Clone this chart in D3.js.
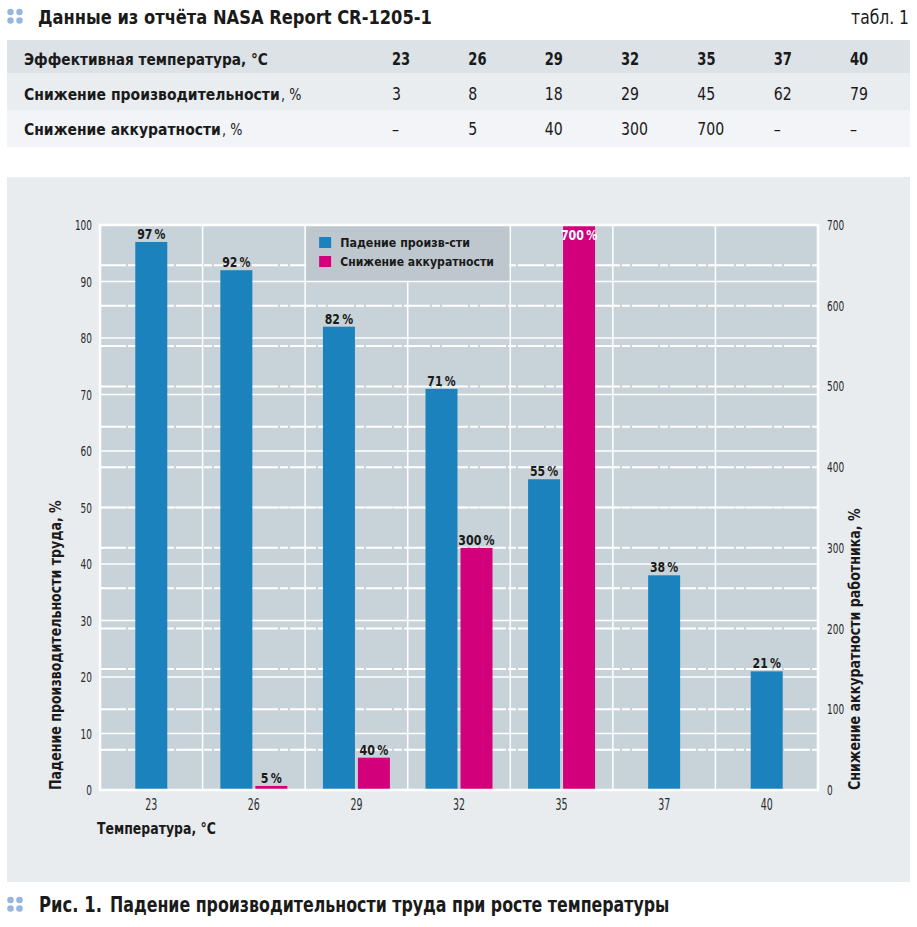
<!DOCTYPE html>
<html><head><meta charset="utf-8">
<script src="https://cdn.jsdelivr.net/npm/d3@7"></script>
<style>
html,body{margin:0;padding:0;background:#fff;}
svg{display:block;}
text{font-family:"DejaVu Sans","Liberation Sans",sans-serif;fill:#1a1a1a;}
.b{font-weight:bold;}
</style></head>
<body>
<svg id="c" width="917" height="927"></svg>
<script>
// ---- data ----
const tableTitle = "Данные из отчёта NASA Report CR-1205-1";
const tableTag = "табл. 1";
const temps = [23, 26, 29, 32, 35, 37, 40];
const tableProdDecline = [3, 8, 18, 29, 45, 62, 79];
const tableAccDecline = [null, 5, 40, 300, 700, null, null];
const rowLabels = [["Эффективная температура, °С", ""], ["Снижение производительности", ", %"], ["Снижение аккуратности", ", %"]];
const productivity = [97, 92, 82, 71, 55, 38, 21];
const accuracy = [null, 5, 40, 300, 700, null, null];
const seriesNames = ["Падение произв-сти", "Снижение аккуратности"];
const leftTicks = [0, 10, 20, 30, 40, 50, 60, 70, 80, 90, 100];
const rightTicks = [0, 100, 200, 300, 400, 500, 600, 700];
const rightGrid = [50, 100, 150, 200, 250, 300, 350, 400, 450, 500, 550, 600, 650];
const leftTitle = "Падение производительности труда, %";
const rightTitle = "Снижение аккуратности работника, %";
const xTitle = "Температура, °С";
const caption = ["Рис. 1.", "Падение производительности труда при росте температуры"];

const blue = "#1b82be", pink = "#d3007b";
const svg = d3.select("#c");

// condensed look via horizontal scaling (no condensed font installed)
// w: target width (number) or null; k: factor used when w is null; rot: rotation
function squeeze(sel, w, k, rot) {
  sel.each(function () {
    const s = d3.select(this);
    const x0 = +s.attr("x") || 0, y0 = +s.attr("y") || 0;
    const l = this.getComputedTextLength();
    const f = w != null ? w / l : k;
    s.attr("x", 0).attr("y", 0)
     .attr("transform", `translate(${x0},${y0})` + (rot ? ` rotate(${rot})` : "") + ` scale(${f},1)`);
  });
  return sel;
}

function dots(cx, cy, dx, dy, r) {
  [[0,0],[1,0],[0,1],[1,1]].forEach(([i,j]) =>
    svg.append("circle").attr("cx", cx + i*dx).attr("cy", cy + j*dy).attr("r", r).attr("fill", "#95b6e0"));
}

// ---- header ----
dots(10.5, 12, 9, 8.5, 3.2);
squeeze(svg.append("text").attr("class","b").attr("x",38).attr("y",24).attr("font-size",20).text(tableTitle), 394);
squeeze(svg.append("text").attr("x",909).attr("y",24).attr("text-anchor","end").attr("font-size",20).text(tableTag), 58);

// ---- table ----
const rowY = [40, 73, 110, 147];
const rowBase = [65, 100, 135];
const rowFill = ["#dce2e6", "#e9edf0", "#f2f4f7"];
const rowLabelW = [244, 256, 197];
const colX = d3.scalePoint().domain(temps).range([392, 850]);
rowLabels.forEach((lab, i) => {
  svg.append("rect").attr("x",7).attr("y",rowY[i]).attr("width",903).attr("height",rowY[i+1]-rowY[i]).attr("fill",rowFill[i]);
  squeeze(svg.append("text").attr("class","b").attr("x",24).attr("y",rowBase[i]).attr("font-size",16).text(lab[0]), rowLabelW[i]);
  if (lab[1]) squeeze(svg.append("text").attr("x",25 + rowLabelW[i]).attr("y",rowBase[i]).attr("font-size",16).text(lab[1]), null, 0.8);
});
const rows = [temps, tableProdDecline, tableAccDecline];
rows.forEach((vals, i) => {
  squeeze(svg.selectAll(null).data(vals).enter().append("text")
    .attr("x", (d, k) => colX(temps[k]))
    .attr("y", rowBase[i])
    .attr("font-size", 17)
    .attr("font-weight", i === 0 ? "bold" : "normal")
    .text(d => d === null ? "–" : d), null, i === 0 ? 0.77 : 0.83);
});

// ---- chart panel ----
svg.append("rect").attr("x",7).attr("y",177).attr("width",903).attr("height",705).attr("fill","#e8ecef");

const L = 100, R = 818, T = 225, B = 790;
const x = d3.scaleBand().domain(temps).range([L, R]).padding(0);
const yL = d3.scaleLinear().domain([0, 100]).range([B, T]);
const yR = d3.scaleLinear().domain([0, 700]).range([B, T]);
const bw = 32, gap = 3;

svg.append("rect").attr("x",L).attr("y",T).attr("width",R-L).attr("height",B-T).attr("fill","#c8d3d9");

// grid: right-axis lines (broken)
svg.append("g").selectAll("line").data(rightGrid).enter().append("line")
  .attr("x1",L).attr("x2",R).attr("y1",d=>yR(d)).attr("y2",d=>yR(d))
  .attr("stroke","#fff").attr("stroke-width",2).attr("stroke-dasharray","26 2 8 2");
// grid: left-axis lines
svg.append("g").selectAll("line").data(leftTicks.slice(1,-1)).enter().append("line")
  .attr("x1",L).attr("x2",R).attr("y1",d=>yL(d)).attr("y2",d=>yL(d))
  .attr("stroke","#fff").attr("stroke-width",1.5);
// vertical category boundaries
svg.append("g").selectAll("line").data(temps.slice(1)).enter().append("line")
  .attr("x1",d=>x(d)).attr("x2",d=>x(d)).attr("y1",T).attr("y2",B)
  .attr("stroke","#fff").attr("stroke-width",1.5);

// legend box
const lgX0 = x(temps[2]), lgX1 = x(temps[4]);
svg.append("rect").attr("x",lgX0+1).attr("y",T).attr("width",lgX1-lgX0-2).attr("height",yL(90)-T-1).attr("fill","#bec7ce");
const legW = [130, 154];
[blue, pink].forEach((c, i) => {
  svg.append("rect").attr("x",lgX0+14).attr("y",237+i*19).attr("width",12).attr("height",11).attr("fill",c);
  squeeze(svg.append("text").attr("class","b").attr("x",lgX0+35).attr("y",247+i*19).attr("font-size",13).text(seriesNames[i]), legW[i]);
});

// bars
const cx = d => x(d) + x.bandwidth()/2;
const blueX = (d,i) => accuracy[i] === null ? cx(d) - bw/2 : cx(d) - gap/2 - bw;
svg.append("g").selectAll("rect").data(temps).enter().append("rect")
  .attr("x",(d,i)=>blueX(d,i)).attr("y",(d,i)=>yL(productivity[i]))
  .attr("width",bw).attr("height",(d,i)=>B-yL(productivity[i])).attr("fill",blue);
const accData = temps.map((t,i)=>({t, v: accuracy[i]})).filter(d=>d.v!==null);
svg.append("g").selectAll("rect").data(accData).enter().append("rect")
  .attr("x",d=>cx(d.t)+gap/2).attr("y",d=>yR(d.v))
  .attr("width",bw).attr("height",d=>B-yR(d.v)).attr("fill",pink);

// value labels
squeeze(svg.append("g").selectAll("text").data(temps).enter().append("text")
  .attr("class","b").attr("font-size",14).attr("text-anchor","middle")
  .attr("x",(d,i)=>blueX(d,i)+bw/2).attr("y",(d,i)=>yL(productivity[i])-3)
  .text((d,i)=>productivity[i] + "\u2009%"), null, 0.78);
squeeze(svg.append("g").selectAll("text").data(accData).enter().append("text")
  .attr("class","b").attr("font-size",14).attr("text-anchor","middle")
  .attr("x",d=>cx(d.t)+gap/2+bw/2)
  .attr("y",d=> yR(d.v) - T < 20 ? yR(d.v)+15 : yR(d.v)-3)
  .style("fill",d=> yR(d.v) - T < 20 ? "#fff" : "#1a1a1a")
  .text(d=>d.v + "\u2009%"), null, 0.79);

// frame
svg.append("rect").attr("x",L).attr("y",T).attr("width",R-L).attr("height",B-T)
  .attr("fill","none").attr("stroke","#fff").attr("stroke-width",2.5);

// axis tick labels
squeeze(svg.append("g").selectAll("text").data(leftTicks).enter().append("text")
  .attr("x",92).attr("y",d=>yL(d)+5).attr("text-anchor","end").attr("font-size",14).style("fill","#2a2a2a").text(d=>d), null, 0.64);
squeeze(svg.append("g").selectAll("text").data(rightTicks).enter().append("text")
  .attr("x",827).attr("y",d=>yR(d)+5).attr("font-size",14).style("fill","#2a2a2a").text(d=>d), null, 0.64);
squeeze(svg.append("g").selectAll("text").data(temps).enter().append("text")
  .attr("x",d=>cx(d)).attr("y",810).attr("text-anchor","middle").attr("font-size",15).style("fill","#2a2a2a").text(d=>d), null, 0.63);

// axis titles
squeeze(svg.append("text").attr("class","b").attr("font-size",16).attr("x",61).attr("y",B).text(leftTitle), 290, null, -90);
squeeze(svg.append("text").attr("class","b").attr("font-size",16).attr("x",860).attr("y",B).text(rightTitle), 282, null, -90);
squeeze(svg.append("text").attr("class","b").attr("x",97).attr("y",834).attr("font-size",16).text(xTitle), 119);

// caption
dots(10.5, 900, 9, 8.5, 3.3);
squeeze(svg.append("text").attr("class","b").attr("x",39).attr("y",912).attr("font-size",21).text(caption[0]), 63);
squeeze(svg.append("text").attr("class","b").attr("x",110).attr("y",912).attr("font-size",21).text(caption[1]), 560);
</script>
</body></html>
